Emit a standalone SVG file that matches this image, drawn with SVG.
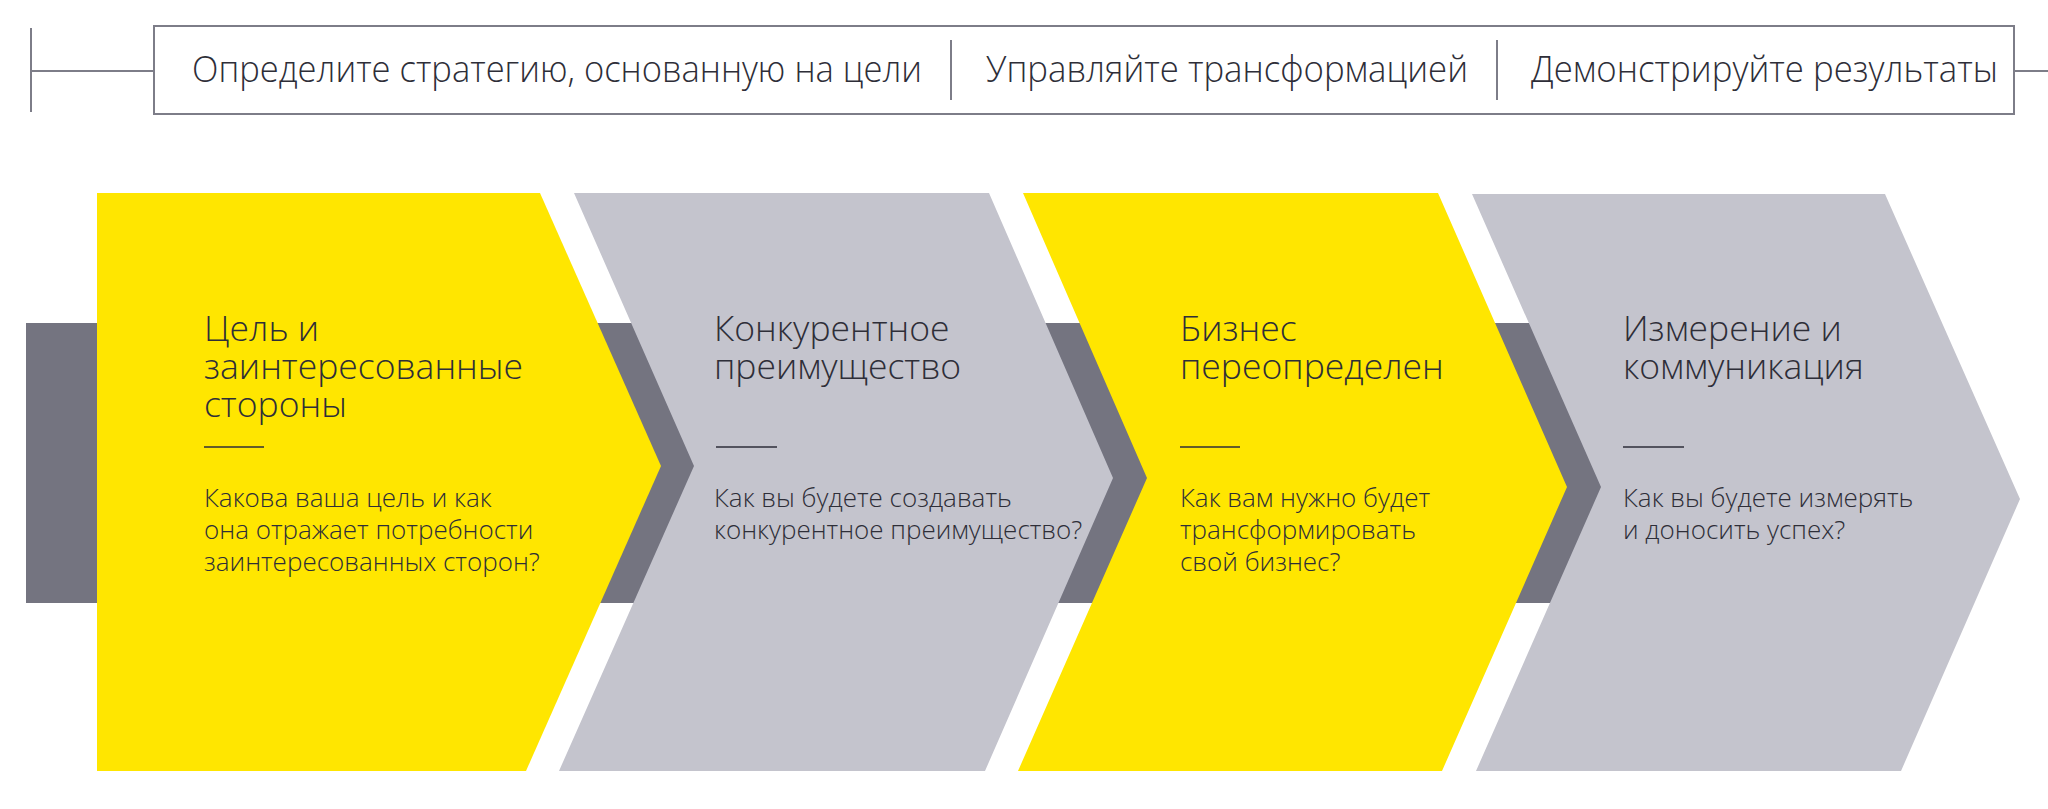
<svg xmlns="http://www.w3.org/2000/svg" width="2048" height="809" viewBox="0 0 2048 809">
<style>
.ln{stroke:#7d7d88;stroke-width:2;fill:none}
.hd{font-family:"Open Sans","Liberation Sans",sans-serif;font-size:37px;fill:#2e2e38;font-weight:300}
.tt{font-family:"Open Sans","Liberation Sans",sans-serif;font-size:35.5px;fill:#2e2e38;font-weight:300}
.bd{font-family:"Open Sans","Liberation Sans",sans-serif;font-size:26px;fill:#2e2e38;font-weight:300}
.yl{fill:#ffe600}
.gr{fill:#c4c4cd}
.rule{stroke:#2e2e38;stroke-width:1.5}
</style>
<g id="header">
<line class="ln" x1="31" y1="28" x2="31" y2="112"/>
<line class="ln" x1="31" y1="71" x2="154" y2="71"/>
<rect class="ln" x="154" y="26" width="1860" height="88"/>
<line class="ln" x1="2014" y1="71" x2="2048" y2="71"/>
<line class="ln" x1="951" y1="40" x2="951" y2="100" stroke-width="1.5"/>
<line class="ln" x1="1497" y1="40" x2="1497" y2="100" stroke-width="1.5"/>
<text class="hd" x="192" y="82" textLength="730" lengthAdjust="spacingAndGlyphs">Определите стратегию, основанную на цели</text>
<text class="hd" x="986" y="82" textLength="482" lengthAdjust="spacingAndGlyphs">Управляйте трансформацией</text>
<text class="hd" x="1531" y="82" textLength="467" lengthAdjust="spacingAndGlyphs">Демонстрируйте результаты</text>
</g>
<g id="connectors">
<rect x="26" y="323" width="1700" height="280" fill="#747480"/>
</g>
<g id="step1">
<polygon class="yl" points="97,193 540,193 661,466 526,771 97,771"/>
<text class="tt" x="204"><tspan x="204" y="341">Цель и</tspan><tspan x="204" y="379">заинтересованные</tspan><tspan x="204" y="417">стороны</tspan></text>
<line class="rule" x1="204" y1="447" x2="264" y2="447"/>
<text class="bd"><tspan x="204" y="507">Какова ваша цель и как</tspan><tspan x="204" y="539">она отражает потребности</tspan><tspan x="204" y="571">заинтересованных сторон?</tspan></text>
</g>
<g id="step2">
<polygon class="gr" points="574,193 989,193 1113,478 985,771 559,771 694,466"/>
<text class="tt"><tspan x="714" y="341">Конкурентное</tspan><tspan x="714" y="379">преимущество</tspan></text>
<line class="rule" x1="716" y1="447" x2="777" y2="447"/>
<text class="bd"><tspan x="714" y="507">Как вы будете создавать</tspan><tspan x="714" y="539">конкурентное преимущество?</tspan></text>
</g>
<g id="step3">
<polygon class="yl" points="1023,193 1438,193 1567,487 1442,771 1018,771 1147,478"/>
<text class="tt"><tspan x="1180" y="341">Бизнес</tspan><tspan x="1180" y="379">переопределен</tspan></text>
<line class="rule" x1="1180" y1="447" x2="1240" y2="447"/>
<text class="bd"><tspan x="1180" y="507">Как вам нужно будет</tspan><tspan x="1180" y="539">трансформировать</tspan><tspan x="1180" y="571">свой бизнес?</tspan></text>
</g>
<g id="step4">
<polygon class="gr" points="1472,194 1885,194 2020,499 1901,771 1476,771 1601,487"/>
<text class="tt"><tspan x="1623" y="341">Измерение и</tspan><tspan x="1623" y="379">коммуникация</tspan></text>
<line class="rule" x1="1623" y1="447" x2="1684" y2="447"/>
<text class="bd"><tspan x="1623" y="507">Как вы будете измерять</tspan><tspan x="1623" y="539">и доносить успех?</tspan></text>
</g>
</svg>
